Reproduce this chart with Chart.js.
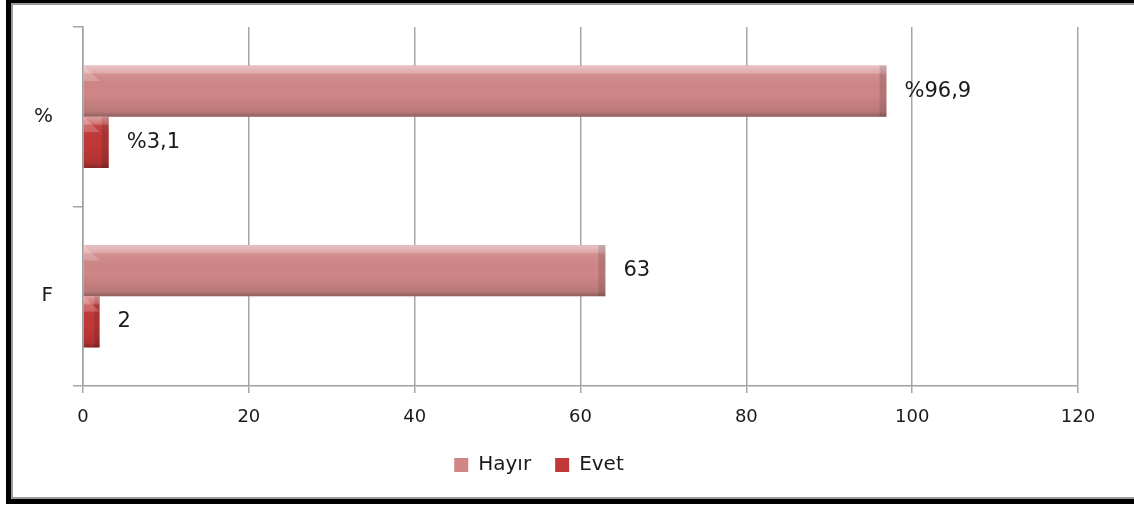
<!DOCTYPE html>
<html>
<head>
<meta charset="utf-8">
<script src="https://cdn.jsdelivr.net/npm/chart.js@4.4.0/dist/chart.umd.min.js"></script>
<style>
  html, body { margin: 0; padding: 0; background: #fff; overflow: hidden; }
  #frame {
    position: absolute; left: 6px; top: 0; width: 1200px; height: 504px;
    box-sizing: border-box;
    border-left: 5px solid #000; border-top: 3px solid #000; border-bottom: 5px solid #000;
    box-shadow: inset 2px 2px 0 #9a9a9a, inset 0 -2px 0 #9a9a9a;
  }
  #wrap { position: absolute; left: 0; top: 0; width: 1134px; height: 507px; }
</style>
</head>
<body>
<div id="frame"></div>
<div id="wrap"><canvas id="chart" width="1134" height="507"></canvas></div>
<script>
// data
const categories = ['%', 'F'];
const hayirValues = [96.9, 63];
const evetValues = [3.1, 2];
const hayirLabels = ['%96,9', '63'];
const evetLabels = ['%3,1', '2'];
const xTicks = [0, 20, 40, 60, 80, 100, 120];

const valueLabels = [hayirLabels, evetLabels];

// glossy bevel on top of the flat bars
const bevel = {
    id: 'bevel',
    afterDatasetsDraw(chart) {
        const ctx = chart.ctx;
        ctx.save();
        chart.data.datasets.forEach((ds, i) => {
            chart.getDatasetMeta(i).data.forEach(bar => {
                const p = bar.getProps(['x', 'y', 'base', 'height'], true);
                const top = p.y - p.height / 2, bot = p.y + p.height / 2;
                const left = Math.min(p.base, p.x), w = Math.abs(p.x - p.base);
                const g = ctx.createLinearGradient(0, top, 0, bot);
                g.addColorStop(0, 'rgba(255,255,255,0.5)');
                g.addColorStop(0.14, 'rgba(255,255,255,0.3)');
                g.addColorStop(0.17, 'rgba(255,255,255,0.08)');
                g.addColorStop(0.55, 'rgba(0,0,0,0)');
                g.addColorStop(0.9, 'rgba(0,0,0,0.1)');
                g.addColorStop(1, 'rgba(0,0,0,0.3)');
                ctx.fillStyle = g;
                ctx.fillRect(left, top, w, p.height);
                // darker end cap
                const cap = Math.min(7, w / 3);
                ctx.fillStyle = 'rgba(0,0,0,0.12)';
                ctx.fillRect(left + w - cap, top, cap, p.height);
                // light corner wedge at start
                ctx.fillStyle = 'rgba(255,255,255,0.2)';
                ctx.beginPath();
                ctx.moveTo(left, top);
                ctx.lineTo(left + Math.min(16, w), top + Math.min(16, p.height * 0.3));
                ctx.lineTo(left, top + Math.min(16, p.height * 0.3));
                ctx.closePath();
                ctx.fill();
            });
        });
        ctx.restore();
    }
};

const barValues = {
    id: 'barValues',
    afterDatasetsDraw(chart) {
        const ctx = chart.ctx;
        ctx.save();
        ctx.font = '21px "DejaVu Sans"';
        ctx.fillStyle = '#1a1a1a';
        ctx.textBaseline = 'middle';
        ctx.textAlign = 'left';
        chart.data.datasets.forEach((ds, i) => {
            chart.getDatasetMeta(i).data.forEach((bar, j) => {
                ctx.fillText(valueLabels[i][j], bar.x + 18, bar.y);
            });
        });
        ctx.restore();
    }
};

new Chart(document.getElementById('chart'), {
    type: 'bar',
    data: {
        labels: categories,
        datasets: [
            { label: 'Hayır', data: hayirValues, backgroundColor: '#d08686', borderWidth: 0 },
            { label: 'Evet', data: evetValues, backgroundColor: '#c23838', borderWidth: 0 }
        ]
    },
    options: {
        indexAxis: 'y',
        responsive: false,
        animation: false,
        categoryPercentage: 0.57,
        barPercentage: 1,
        layout: { padding: { top: 27, right: 56, bottom: 22, left: 0 } },
        plugins: {
            tooltip: { enabled: false },
            legend: {
                position: 'bottom',
                labels: {
                    font: { family: 'DejaVu Sans', size: 20 },
                    color: '#1a1a1a',
                    boxWidth: 14,
                    boxHeight: 14,
                    padding: 24
                }
            }
        },
        scales: {
            x: {
                min: 0,
                max: 120,
                afterBuildTicks: s => { s.ticks = xTicks.map(v => ({ value: v })); },
                afterFit: s => { s.height = 45; },
                border: { color: '#a0a0a0', width: 1.5 },
                grid: { color: '#a6a6a6', lineWidth: 1.5, tickLength: 7 },
                ticks: { font: { family: 'DejaVu Sans', size: 18 }, color: '#1a1a1a', padding: 14 }
            },
            y: {
                afterFit: s => { s.width = 83; s.paddingTop = 0; s.paddingBottom = 0; },
                border: { color: '#a0a0a0', width: 1.5 },
                grid: { drawOnChartArea: false, color: '#a6a6a6', lineWidth: 1.5, tickLength: 10, offset: true },
                ticks: { font: { family: 'DejaVu Sans', size: 20 }, color: '#1a1a1a', padding: 20 }
            }
        }
    },
    plugins: [bevel, barValues]
});
</script>
</body>
</html>
